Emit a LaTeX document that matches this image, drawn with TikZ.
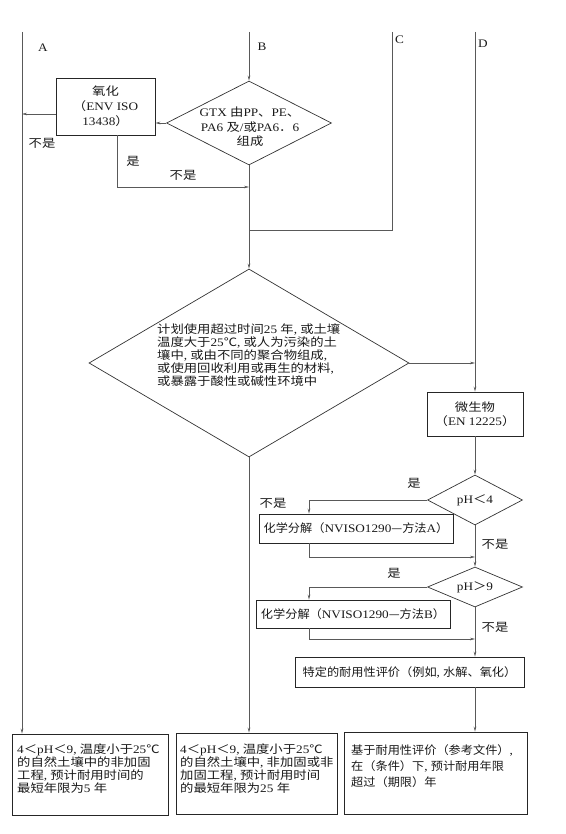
\documentclass[tikz,border=0pt]{standalone}
\usepackage{fontspec}
\setmainfont{Liberation Serif}[FakeStretch=1.15]
\newfontfamily\cjw{Noto Sans CJK SC}[FakeStretch=1.16]
\newfontfamily\cjn{Noto Sans CJK SC}[FakeStretch=1.06]
\newcommand\zh[1]{{\cjw #1}}
\newcommand\zn[1]{{\cjn #1}}
\newcommand\cm{,\kern3.2pt}
\usetikzlibrary{arrows.meta,shapes.geometric,calc}
\tikzset{
  ln/.style={draw=black!65, line width=0.6pt},
  ar/.style={ln, -{Stealth[length=5pt,width=2.6pt]}},
  box/.style={draw=black!85, line width=0.8pt, inner sep=0pt, align=center, text=black!90},
  dia/.style={draw=black!80, line width=0.7pt, diamond, inner sep=0pt},
  lab/.style={inner sep=0pt, text=black!90},
  txt/.style={inner sep=0pt, align=left, text=black!90},
}
\begin{document}
\begin{tikzpicture}[x=1pt,y=-1pt,font=\fontsize{11.5}{12.8}\selectfont]
\useasboundingbox (0,0) rectangle (565,834);
% column heads
\coordinate (At) at (22,32);
\coordinate (Bt) at (249,32);
\coordinate (Ct) at (392,32);
\coordinate (Cb) at (392,230);
\coordinate (Dt) at (475,32);
\node[lab] (la) at (43,48) {A};
\node[lab] (lb) at (262,47) {B};
\node[lab,anchor=west] (lc) at (395,40) {C};
\node[lab,anchor=west] (ld) at (478,44) {D};
% GTX diamond and oxidation
\node[dia, minimum width=165pt, minimum height=84pt] (gtx) at (249,123) {};
\node[txt, align=center, font=\fontsize{11.5}{14.5}\selectfont] (gtxt) at (250,127) {GTX \zh{由}PP\zh{、}PE\zh{、}\\PA6 \zh{及}/\zh{或}PA6\zh{．}6\\\zh{组成}};
\node[box, minimum width=99pt, minimum height=57pt, font=\fontsize{11.5}{15}\selectfont] (ox) at (105.5,106.5) {\zh{氧化}\\\zh{（}ENV ISO\\13438\zh{）}};
\draw[ar] (Bt) -- (gtx.north);
\draw[ar] (gtx.west) -- (gtx.west -| ox.east);
\coordinate (oxo) at ([yshift=-7.5pt]ox.west);
\draw[ar] (oxo) -- (oxo -| At);
\node[lab] (n1) at (42,143) {\zh{不是}};
\coordinate (oxb) at ([xshift=11.5pt]ox.south);
\coordinate (j1) at (249,187);
\draw[ar] (oxb) |- (j1);
\node[lab] (y1) at (133,161) {\zh{是}};
\node[lab] (n2) at (183,175) {\zh{不是}};
\draw[ln] (Ct) -- (Cb) -- (Cb -| Bt);
% big diamond
\node[dia, minimum width=320pt, minimum height=188pt] (big) at (249,363) {};
\node[txt, anchor=north west] (bigt) at (157,324) {\zh{计划使用超过时间}25 \zh{年}\cm\zh{或土壤}\\\zh{温度大于}25\zh{℃}\cm\zh{或人为污染的土}\\\zh{壤中}\cm\zh{或由不同的聚合物组成}\cm\\\zh{或使用回收利用或再生的材料}\cm\\\zh{或暴露于酸性或碱性环境中}};
\draw[ar] (gtx.south) -- (big.north);
\draw[ar] (big.east) -- (big.east -| Dt);
% D column
\node[box, minimum width=96pt, minimum height=44pt, font=\fontsize{11.5}{14}\selectfont] (mic) at (475,414) {\zh{微生物}\\\zh{（}EN 12225\zh{）}};
\draw[ar] (Dt) -- (mic.north);
\node[dia, minimum width=95pt, minimum height=50pt] (ph4) at (475,500) {};
\node[lab] (ph4t) at (475,500) {pH\zh{＜}4};
\draw[ar] (mic.south) -- (ph4.north);
\node[box, minimum width=194pt, minimum height=29pt] (ca) at (356,528.5) {\zn{化学分解（}NVISO1290\zn{—方法}A\zn{）}};
\draw[ar] (ph4.west) -| ([xshift=-47pt]ca.north);
\coordinate (j2) at (475,557);
\draw[ar] ([xshift=-47pt]ca.south) |- (j2);
\node[lab] (y2) at (414,483) {\zh{是}};
\node[lab] (n3) at (273,503) {\zh{不是}};
\node[lab] (n4) at (495,544) {\zh{不是}};
\node[dia, minimum width=95pt, minimum height=40pt] (ph9) at (475,587) {};
\node[lab] (ph9t) at (475,587) {pH\zh{＞}9};
\draw[ar] (ph4.south) -- (ph9.north);
\node[box, minimum width=194pt, minimum height=28pt] (cb) at (353,614) {\zn{化学分解（}NVISO1290\zn{—方法}B\zn{）}};
\draw[ar] (ph9.west) -| ([xshift=-44pt]cb.north);
\coordinate (j3) at (475,639);
\draw[ar] ([xshift=-44pt]cb.south) |- (j3);
\node[lab] (y3) at (394,573) {\zh{是}};
\node[lab] (n5) at (495,627) {\zh{不是}};
\node[box, minimum width=229pt, minimum height=30pt] (dur) at (409.5,672) {\zn{特定的耐用性评价（例如}\cm\zn{水解、氧化）}};
\draw[ar] (ph9.south) -- (ph9.south |- dur.north);
% result boxes
\node[box, minimum width=156pt, minimum height=81pt] (ra) at (90,774.5) {};
\node[box, minimum width=161pt, minimum height=81pt] (rb) at (256.5,773.5) {};
\node[box, minimum width=183pt, minimum height=82pt] (rc) at (435.5,773) {};
\node[txt, anchor=north west] (rat) at (17,744) {4\zh{＜}pH\zh{＜}9\cm\zh{温度小于}25\zh{℃}\\\zh{的自然土壤中的非加固}\\\zh{工程}\cm\zh{预计耐用时间的}\\\zh{最短年限为}5 \zh{年}};
\node[txt, anchor=north west] (rbt) at (180,744) {4\zh{＜}pH\zh{＜}9\cm\zh{温度小于}25\zh{℃}\\\zh{的自然土壤中}\cm\zh{非加固或非}\\\zh{加固工程}\cm\zh{预计耐用时间}\\\zh{的最短年限为}25 \zh{年}};
\node[txt, anchor=north west, font=\fontsize{11.5}{16.3}\selectfont] (rct) at (351,744) {\zn{基于耐用性评价（参考文件）}\cm\\\zn{在（条件）下}\cm\zn{预计耐用年限}\\\zn{超过（期限）年}};
\draw[ar] (At) -- (At |- ra.north);
\draw[ar] (big.south) -- (big.south |- rb.north);
\draw[ar] (dur.south -| Dt) -- (Dt |- rc.north);
\end{tikzpicture}
\end{document}
